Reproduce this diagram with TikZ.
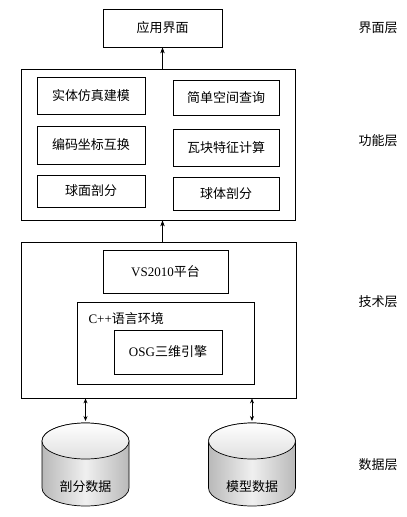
\documentclass[tikz,border=0pt]{standalone}
\usepackage{fontspec}
\setmainfont{Liberation Serif}
\newfontfamily\cjk{Noto Sans CJK SC}
\usetikzlibrary{arrows.meta}
\begin{document}
\begin{tikzpicture}[x=1pt,y=-1pt,
  every node/.style={font=\fontsize{13}{15}\selectfont},
  boxn/.style={draw,line width=0.8pt,inner sep=0pt},
  arr/.style={-{Stealth[length=6pt,width=4.5pt]},line width=0.7pt},
  darr/.style={{Stealth[length=5pt,width=4pt]}-{Stealth[length=5pt,width=4pt]},line width=0.7pt},
  lay/.style={anchor=west,font=\fontsize{13}{15}\selectfont\cjk}]
\useasboundingbox (0,0) rectangle (407,517);
% interface layer
\node[boxn,minimum width=119pt,minimum height=38pt] (app) at (162.5,28) {\cjk 应用界面};
% functional layer
\node[boxn,minimum width=274pt,minimum height=151pt] (func) at (158,144.5) {};
\node[boxn,minimum width=108pt,minimum height=37pt] (f1) at (91,95.5) {\cjk 实体仿真建模};
\node[boxn,minimum width=106pt,minimum height=35pt] (f2) at (226,97.5) {\cjk 简单空间查询};
\node[boxn,minimum width=108pt,minimum height=38pt] (f3) at (91,145) {\cjk 编码坐标互换};
\node[boxn,minimum width=106pt,minimum height=37pt] (f4) at (226,147.5) {\cjk 瓦块特征计算};
\node[boxn,minimum width=108pt,minimum height=32pt] (f5) at (91,191) {\cjk 球面剖分};
\node[boxn,minimum width=106pt,minimum height=33pt] (f6) at (226,193.5) {\cjk 球体剖分};
% technical layer
\node[boxn,minimum width=275pt,minimum height=156pt] (tech) at (158.5,320) {};
\node[boxn,minimum width=125pt,minimum height=43pt] (vs) at (165.5,271.5) {VS2010{\cjk 平台}};
\node[boxn,minimum width=177pt,minimum height=82pt] (cpp) at (165.5,343) {};
\node[anchor=west] (cpplab) at (85,319) {C++{\cjk 语言环境}};
\node[boxn,minimum width=108pt,minimum height=44pt] (osg) at (168,352) {OSG{\cjk 三维引擎}};
% arrows
\draw[arr] (func.north -| app.south) -- (app.south);
\draw[arr] (tech.north -| app.south) -- (func.south -| app.south);
% data layer cylinders
\foreach \n/\cx/\lab in {d1/85.5/剖分数据, d2/252/模型数据}{
  \begin{scope}
  \shade[left color=gray!55,right color=gray!55,middle color=gray!12,draw,line width=0.7pt]
    (\cx-43.5,441) -- (\cx-43.5,488) arc[start angle=180,end angle=0,x radius=43.5,y radius=18]
    -- (\cx+43.5,441) arc[start angle=0,end angle=-180,x radius=43.5,y radius=18] -- cycle;
  \shade[top color=white,bottom color=gray!25,draw,line width=0.7pt]
    (\cx,441) ellipse[x radius=43.5,y radius=18];
  \end{scope}
  \node (\n) at (\cx,487) {\cjk \lab};
  \coordinate (\n top) at (\cx,421);
}
\draw[darr] (tech.south -| d1top) -- (d1top);
\draw[darr] (tech.south -| d2top) -- (d2top);
% layer labels
\node[lay] (l1) at (355,28) {界面层};
\node[lay] (l2) at (355,141) {功能层};
\node[lay] (l3) at (355,302) {技术层};
\node[lay] (l4) at (355,465) {数据层};
\end{tikzpicture}
\end{document}
